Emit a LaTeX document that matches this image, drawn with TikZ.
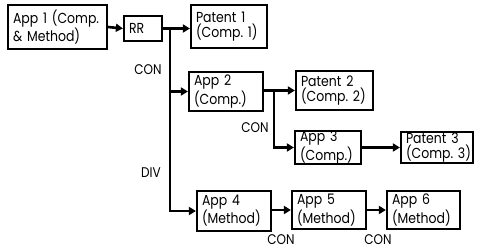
\documentclass[tikz,border=0pt]{standalone}
\usepackage{fontspec}
\setmainfont[FakeStretch=0.86]{Poppins}
\frenchspacing
\usetikzlibrary{arrows.meta}
\begin{document}
\begin{tikzpicture}[x=1pt,y=-1pt,
  box/.style={draw,line width=2.2pt,inner xsep=4pt,inner ysep=0pt,align=left,font=\fontsize{14.5}{15.5}\selectfont\frenchspacing,anchor=center},
  conn/.style={line width=2.6pt,-{Triangle[length=7pt,width=8pt]}},
  lbl/.style={font=\fontsize{14}{15.5}\selectfont}]
\useasboundingbox (0,0) rectangle (483,251);
\newcommand{\mybox}[7]{\node[box,minimum width=#4pt,minimum height=#5pt,text width=#4pt-10pt] (#1) at (#6,#7) {\mbox{#2}\\\mbox{#3}};}
\mybox{app1}{App 1 (Comp.}{\& Method)}{99}{44}{57.5}{27}
\node[box,minimum width=38pt,minimum height=25pt,text width=28pt] (rr) at (143,28.5) {RR};
\mybox{pat1}{Patent 1}{(Comp. 1)}{76}{43}{229}{26.5}
\mybox{app2}{App 2}{(Comp.)}{74}{39}{226}{91.5}
\mybox{pat2}{Patent 2}{(Comp. 2)}{77}{39}{334.5}{90.5}
\mybox{app3}{App 3}{(Comp.)}{66}{33}{328}{147.5}
\mybox{pat3}{Patent 3}{(Comp. 3)}{72}{31}{437}{147.5}
\mybox{app4}{App 4}{(Method)}{74}{40}{234}{211}
\mybox{app5}{App 5}{(Method)}{74}{38}{329}{210}
\mybox{app6}{App 6}{(Method)}{73}{38}{423.5}{210}
\coordinate (t) at (170,28.5);
\coordinate (b) at (274,90.5);
\draw[conn] (app1.east) -- (rr.west);
\draw[conn] (rr.east) -- (rr.east -| pat1.west);
\draw[conn] (t) |- (app2.west);
\draw[conn] (t) |- (app4.west);
\draw[conn] (app2.east |- pat2.west) -- (pat2.west);
\draw[conn] (b) |- (app3.west);
\draw[conn] (app3.east) -- (pat3.west);
\draw[conn] (app4.east |- app5.west) -- (app5.west);
\draw[conn] (app5.east) -- (app6.west);
\node[lbl] (l1) at (148,70) {CON};
\node[lbl] (l2) at (255,128) {CON};
\node[lbl] (l3) at (151,173) {DIV};
\node[lbl] (l4) at (281,240) {CON};
\node[lbl] (l5) at (378,240) {CON};
\end{tikzpicture}
\end{document}
